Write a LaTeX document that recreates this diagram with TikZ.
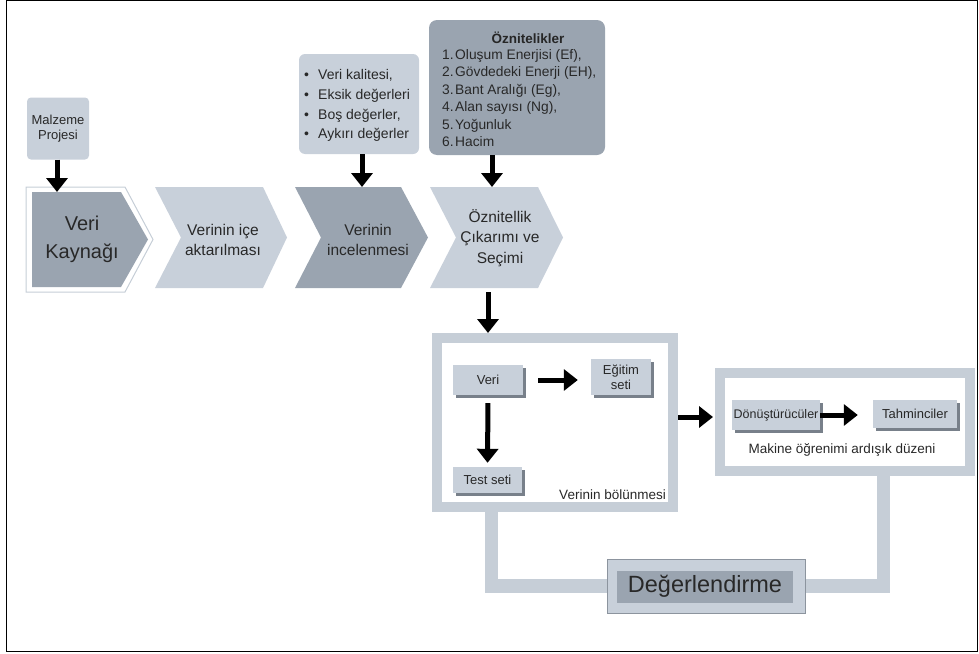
\documentclass[tikz,border=0pt]{standalone}
\usepackage{fontspec}
\setmainfont{Liberation Sans}
\usetikzlibrary{arrows.meta,shadows}
\definecolor{lightc}{RGB}{200,208,218}
\definecolor{darkc}{RGB}{154,164,176}
\definecolor{bandc}{RGB}{198,206,215}
\definecolor{shadc}{RGB}{120,128,138}
\definecolor{txtc}{RGB}{40,40,40}
\definecolor{edgec}{RGB}{140,148,158}
\newcommand{\fs}[2]{\fontsize{#1}{#2}\selectfont}
\begin{document}
\begin{tikzpicture}[x=1pt,y=-1pt,
  fat/.style={line width=5pt,-{Triangle[length=14pt,width=21pt]}},
  chtxt/.style={align=center,text=txtc,inner sep=0pt},
  linetxt/.style={anchor=base west,inner sep=0pt,text=txtc},
  sbox/.style={fill=lightc,inner sep=0pt,align=center,text=txtc,font=\fs{13}{15},
    drop shadow={shadow xshift=2.5pt,shadow yshift=-2.5pt,fill=shadc,opacity=1}},
  frame/.style={draw=bandc,line width=10pt,inner sep=0pt},
  band/.style={draw=bandc,line width=13.5pt}]
\useasboundingbox (0,0) rectangle (979,653);
\draw[line width=1pt] (6.5,0.5) rectangle (977,651.5);

% chevrons
\draw[bandc,fill=white,line width=1pt] (26,187) -- (125,187) -- (153,239.5) -- (125,292) -- (26,292) -- cycle;
\fill[darkc] (32,192) -- (121,192) -- (148,239.5) -- (121,287) -- (32,287) -- cycle;
\fill[lightc] (155,187) -- (263,187) -- (287,237.5) -- (263,288) -- (155,288) -- (181,237.5) -- cycle;
\fill[darkc] (295,187) -- (401,187) -- (428,237.5) -- (401,288) -- (295,288) -- (321,237.5) -- cycle;
\fill[lightc] (430,187) -- (538,187) -- (563,237.5) -- (538,288) -- (430,288) -- (456,237.5) -- cycle;

\node[chtxt,font=\fs{20}{28}] (vk) at (82,239) {Veri\\Kaynağı};
\node[chtxt,font=\fs{15.5}{20}] (ice) at (223,240) {Verinin içe\\aktarılması};
\node[chtxt,font=\fs{15.5}{20}] (inc) at (368,240) {Verinin\\incelenmesi};
\node[chtxt,font=\fs{15.5}{20.5}] (ozc) at (500,238) {Öznitellik\\Çıkarımı ve\\Seçimi};

\coordinate (c1top) at (57,192);
\coordinate (c3top) at (362,187);
\coordinate (c4top) at (492,187);
\coordinate (c4bot) at (488,292);

% Malzeme Projesi
\node[fill=lightc,rounded corners=4pt,minimum width=62pt,minimum height=62pt,inner sep=0pt,
  align=center,text=txtc,font=\fs{13}{15}] (mal) at (58,128.5) {Malzeme\\Projesi};
\draw[fat] (mal.south -| c1top) -- (c1top);

% quality box
\node[fill=lightc,rounded corners=6pt,minimum width=120pt,minimum height=100pt,inner sep=0pt] (qual) at (359,104) {};
\node[linetxt,font=\fs{14}{18}] (q1) at (304,79) {\makebox[14pt][l]{\textbullet}Veri kalitesi,};
\node[linetxt,font=\fs{14}{18}] (q2) at (304,99) {\makebox[14pt][l]{\textbullet}Eksik değerleri};
\node[linetxt,font=\fs{14}{18}] (q3) at (304,119) {\makebox[14pt][l]{\textbullet}Boş değerler,};
\node[linetxt,font=\fs{14}{18}] (q4) at (304,138.5) {\makebox[14pt][l]{\textbullet}Aykırı değerler};
\draw[fat] (qual.south -| c3top) -- (c3top);

% Oznitelikler box
\node[fill=darkc,rounded corners=8pt,minimum width=176pt,minimum height=135pt,inner sep=0pt] (ozb) at (517,87.5) {};
\node[anchor=base,inner sep=0pt,font=\bfseries\fs{13.5}{16},text=black!85] (ozt) at (528,43) {Öznitelikler};
\node[linetxt,font=\fs{13.8}{16}] (o1) at (442,59) {1.\hspace{1.5pt}Oluşum Enerjisi (Ef),};
\node[linetxt,font=\fs{13.8}{16}] (o2) at (442,76.5) {2.\hspace{1.5pt}Gövdedeki Enerji (EH),};
\node[linetxt,font=\fs{13.8}{16}] (o3) at (442,94) {3.\hspace{1.5pt}Bant Aralığı (Eg),};
\node[linetxt,font=\fs{13.8}{16}] (o4) at (442,111.5) {4.\hspace{1.5pt}Alan sayısı (Ng),};
\node[linetxt,font=\fs{13.8}{16}] (o5) at (442,129) {5.\hspace{1.5pt}Yoğunluk};
\node[linetxt,font=\fs{13.8}{16}] (o6) at (442,146.5) {6.\hspace{1.5pt}Hacim};
\draw[fat] (ozb.south -| c4top) -- (c4top);

% bands to evaluation
\node[frame,minimum width=236pt,minimum height=169pt] (split) at (555,422.5) {};
\node[frame,minimum width=249.5pt,minimum height=98pt] (ml) at (844.75,421.5) {};
\coordinate (lb) at (491.5,586);
\coordinate (rb) at (883.5,586);
\node[fill=lightc,draw=edgec,line width=0.8pt,minimum width=198pt,minimum height=54pt,inner sep=0pt] (deg) at (706,586) {};
\draw[band] (split.south -| lb) -- (lb) -- (deg.west);
\draw[band] (ml.south -| rb) -- (rb) -- (deg.east);
\node[fill=lightc,draw=edgec,line width=0.8pt,minimum width=198pt,minimum height=54pt,inner sep=0pt] (deg2) at (706,586) {};
\node[fill=darkc,minimum width=176pt,minimum height=32pt,inner sep=0pt,text=txtc,font=\fs{23.5}{26}] (degt) at (705,586.5) {Değerlendirme};

\draw[fat] (c4bot) -- (split.north -| c4bot);

% split contents
\node[sbox,minimum width=70pt,minimum height=30pt] (veri) at (488,380) {Veri};
\node[sbox,minimum width=60pt,minimum height=36pt] (egt) at (621,377) {Eğitim\\seti};
\node[sbox,minimum width=69pt,minimum height=26pt] (test) at (487.5,480) {Test seti};
\node[anchor=base east,inner sep=0pt,text=txtc,font=\fs{13.5}{16}] (splitlbl) at (666,499) {Verinin bölünmesi};
\draw[fat,shorten <=15pt,shorten >=13pt] (veri.east) -- (veri.east -| egt.west);
\draw[fat,shorten <=8pt,shorten >=4pt] (veri.south) -- (test.north);

\coordinate (sp) at (0,417);
\draw[fat,shorten >=2pt] (split.east |- sp) -- (ml.west |- sp);

% ML contents
\node[sbox,minimum width=88pt,minimum height=30pt,font=\fs{12.5}{15}] (don) at (776,415) {Dönüştürücüler};
\node[sbox,minimum width=84pt,minimum height=28pt] (tah) at (915,414) {Tahminciler};
\node[anchor=base,inner sep=0pt,text=txtc,font=\fs{13.5}{16}] (mllbl) at (842,453) {Makine öğrenimi ardışık düzeni};
\draw[fat,shorten >=15pt] (don.east) -- (don.east -| tah.west);
\end{tikzpicture}
\end{document}
